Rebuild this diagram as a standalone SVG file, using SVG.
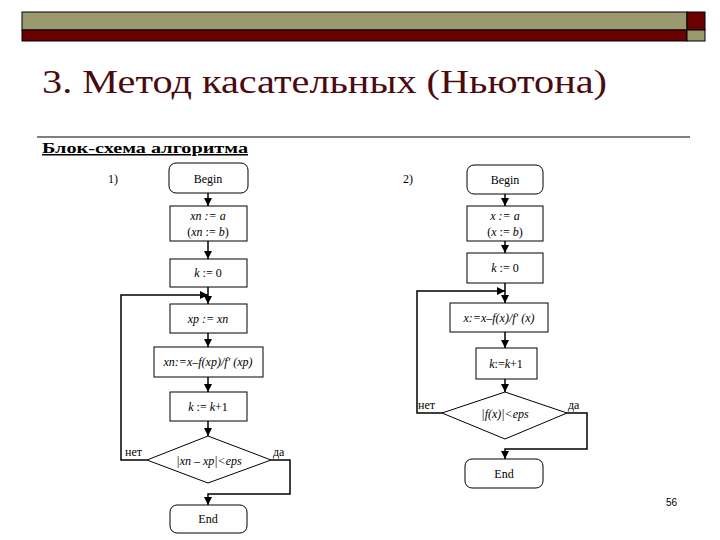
<svg xmlns="http://www.w3.org/2000/svg" width="720" height="540" viewBox="0 0 720 540">
<style>
.sf{font-family:"Liberation Serif","Times New Roman","DejaVu Serif","Noto Serif",serif}
.bx{fill:#fff;stroke:#000;stroke-width:1}
.ln{fill:none;stroke:#000;stroke-width:1.5}
.t{font-family:"Liberation Serif","Times New Roman","DejaVu Serif",serif;font-size:12px;fill:#000;text-anchor:middle}
.i{font-style:italic}
.lb{font-family:"Liberation Serif","Times New Roman","DejaVu Serif",serif;font-size:12px;fill:#000}
</style>
<defs>
<marker id="ah" viewBox="0 0 8 8" refX="8" refY="4" markerWidth="8" markerHeight="8" markerUnits="userSpaceOnUse" orient="auto">
<path d="M0,0 L8,4 L0,8 Z" fill="#000"/>
</marker>
</defs>
<rect width="720" height="540" fill="#fff"/>
<g id="header">
<rect x="22" y="12" width="665" height="18" fill="#9a9a6e" stroke="#000" stroke-width="1"/>
<rect x="22" y="30" width="665" height="11" fill="#6a0000" stroke="#000" stroke-width="1"/>
<rect x="687" y="12" width="18" height="18" fill="#6a0000" stroke="#000" stroke-width="1"/>
<rect x="687" y="30" width="18" height="11" fill="#9a9a6e" stroke="#000" stroke-width="1"/>
</g>
<text x="42" y="93" class="sf" font-size="34" fill="#4a0a10" textLength="565" lengthAdjust="spacingAndGlyphs">3. Метод касательных (Ньютона)</text>
<line x1="37" y1="137" x2="690" y2="137" stroke="#000" stroke-width="1.2"/>
<text x="42" y="153" class="sf" font-size="15" font-weight="bold" text-decoration="underline" fill="#000" textLength="206" lengthAdjust="spacingAndGlyphs">Блок-схема алгоритма</text>
<text x="108" y="183" class="lb" font-size="13">1)</text>
<text x="403" y="183" class="lb" font-size="13">2)</text>

<g id="connectors">
<line class="ln" x1="208" y1="193" x2="208" y2="206" marker-end="url(#ah)"/>
<line class="ln" x1="208" y1="241" x2="208" y2="259" marker-end="url(#ah)"/>
<line class="ln" x1="208" y1="287" x2="208" y2="304" marker-end="url(#ah)"/>
<polyline class="ln" points="147,460 121,460 121,295 208,295" marker-end="url(#ah)"/>
<line class="ln" x1="208" y1="333" x2="208" y2="347" marker-end="url(#ah)"/>
<line class="ln" x1="208" y1="377" x2="208" y2="392" marker-end="url(#ah)"/>
<line class="ln" x1="208" y1="421" x2="208" y2="436" marker-end="url(#ah)"/>
<polyline class="ln" points="271,460 290,460 290,494 208,494 208,505" marker-end="url(#ah)"/>

<line class="ln" x1="505" y1="194" x2="505" y2="206" marker-end="url(#ah)"/>
<line class="ln" x1="505" y1="241" x2="505" y2="253" marker-end="url(#ah)"/>
<line class="ln" x1="505" y1="283" x2="505" y2="303" marker-end="url(#ah)"/>
<polyline class="ln" points="442,413 417,413 417,291 505,291" marker-end="url(#ah)"/>
<line class="ln" x1="505" y1="332" x2="505" y2="348" marker-end="url(#ah)"/>
<line class="ln" x1="505" y1="379" x2="505" y2="392" marker-end="url(#ah)"/>
<polyline class="ln" points="567,413 587,413 587,449 505,449 505,459" marker-end="url(#ah)"/>
</g>

<g id="L-begin"><rect class="bx" x="169" y="163" width="79" height="30" rx="7"/><text class="t" x="208" y="183">Begin</text></g>
<g id="L-init"><rect class="bx" x="170" y="206" width="77" height="35"/><text class="t i" x="208" y="220">xn := a</text><text class="t" x="208" y="236">(<tspan font-style="italic">xn</tspan> := <tspan font-style="italic">b</tspan>)</text></g>
<g id="L-k0"><rect class="bx" x="170" y="259" width="77" height="28"/><text class="t" x="208" y="277"><tspan font-style="italic">k</tspan> := 0</text></g>
<g id="L-xp"><rect class="bx" x="170" y="304" width="77" height="29"/><text class="t i" x="208" y="323">xp := xn</text></g>
<g id="L-xn"><rect class="bx" x="154" y="347" width="109" height="30"/><text class="t i" x="208" y="366">xn:=x–f(xp)/f′ (xp)</text></g>
<g id="L-kinc"><rect class="bx" x="170" y="392" width="77" height="29"/><text class="t" x="208" y="411"><tspan font-style="italic">k</tspan> := <tspan font-style="italic">k</tspan>+1</text></g>
<g id="L-cond"><polygon class="bx" points="208,436 271,460 208,483 147,460"/><text class="t i" x="209" y="465">|xn – xp|&lt;eps</text></g>
<text class="lb" x="125" y="456">нет</text>
<text class="lb" x="273" y="456">да</text>
<g id="L-end"><rect class="bx" x="170" y="505" width="77" height="28" rx="7"/><text class="t" x="208" y="523">End</text></g>

<g id="R-begin"><rect class="bx" x="467" y="165" width="76" height="29" rx="7"/><text class="t" x="505" y="184">Begin</text></g>
<g id="R-init"><rect class="bx" x="467" y="206" width="76" height="35"/><text class="t i" x="505" y="220">x := a</text><text class="t" x="505" y="236">(<tspan font-style="italic">x</tspan> := <tspan font-style="italic">b</tspan>)</text></g>
<g id="R-k0"><rect class="bx" x="467" y="253" width="76" height="30"/><text class="t" x="505" y="272"><tspan font-style="italic">k</tspan> := 0</text></g>
<g id="R-x"><rect class="bx" x="450" y="303" width="98" height="29"/><text class="t i" x="499" y="322">x:=x–f(x)/f′ (x)</text></g>
<g id="R-kinc"><rect class="bx" x="476" y="348" width="61" height="31"/><text class="t" x="506" y="368"><tspan font-style="italic">k</tspan>:=<tspan font-style="italic">k</tspan>+1</text></g>
<g id="R-cond"><polygon class="bx" points="505,392 567,413 505,439 442,413"/><text class="t i" x="505" y="418">|f(x)|&lt;eps</text></g>
<text class="lb" x="418" y="409">нет</text>
<text class="lb" x="568" y="409">да</text>
<g id="R-end"><rect class="bx" x="465" y="459" width="78" height="29" rx="7"/><text class="t" x="504" y="478">End</text></g>

<text x="666" y="506" font-family="Liberation Sans,sans-serif" font-size="10" fill="#000">56</text>
</svg>
